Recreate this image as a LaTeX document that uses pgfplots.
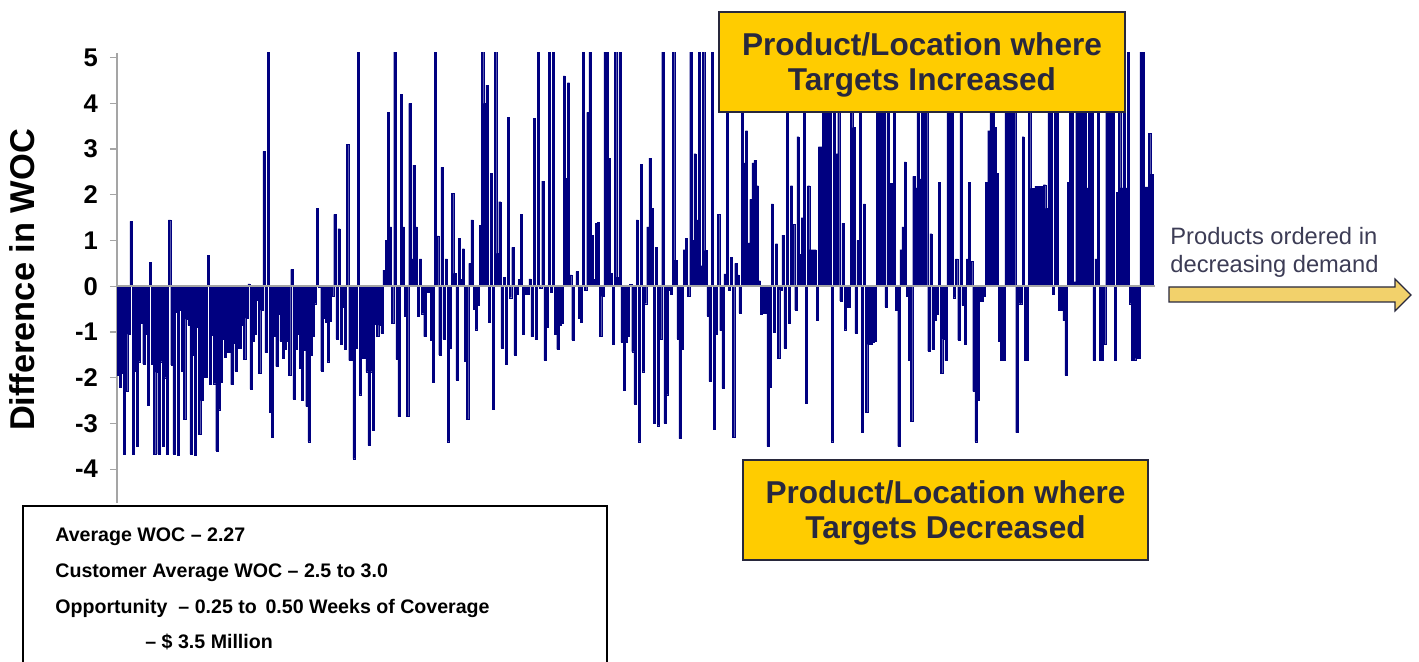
\documentclass[border=0pt]{standalone}
\usepackage{pgfplots}
\pgfplotsset{compat=1.18}
\usepackage{pgfplotstable}
\usepackage{fontspec}
\setmainfont{Liberation Sans}
\definecolor{navybar}{RGB}{0,0,128}
\definecolor{gold}{RGB}{255,204,0}
\definecolor{boxborder}{RGB}{40,40,60}
\definecolor{boxtext}{RGB}{40,40,62}
\definecolor{arrowfill}{RGB}{242,209,107}
\definecolor{arrowtext}{RGB}{60,60,85}
\definecolor{axgray}{RGB}{165,165,165}

\pgfplotstableread[row sep=\\]{v\\
-1.95\\ -2.2\\ -1.9\\ -3.67\\ -2.3\\ -1.05\\ 1.42\\ -3.67\\ -1.85\\ -3.5\\
-1.65\\ -0.8\\ -1.7\\ -1.05\\ -2.6\\ 0.52\\ -1.7\\ -3.67\\ -1.88\\ -3.67\\
-1.65\\ -3.5\\ -2.0\\ -3.67\\ 1.45\\ -1.72\\ -3.67\\ -0.57\\ -3.7\\ -0.52\\
-1.85\\ -2.9\\ -0.72\\ -0.85\\ -3.67\\ -1.5\\ -3.7\\ -0.9\\ -3.24\\ -2.5\\
-1.98\\ -1.98\\ 0.68\\ -2.15\\ -1.07\\ -2.13\\ -3.6\\ -2.7\\ -2.1\\ -1.15\\
-1.55\\ -1.45\\ -1.45\\ -2.15\\ -1.25\\ -1.85\\ -1.35\\ -1.35\\ -0.85\\ -1.6\\
-0.7\\ 0.05\\ -2.25\\ -1.2\\ -1.05\\ -0.3\\ -1.9\\ -0.52\\ 2.95\\
-1.45\\ 5.5\\ -2.75\\ -3.3\\ -1.1\\ -1.75\\ -0.62\\ -1.2\\ -1.58\\ -1.38\\
-1.2\\ -1.95\\ 0.37\\ -2.47\\ -1.38\\ -1.05\\ -1.8\\ -2.5\\ -1.4\\ -2.63\\
-3.4\\ -1.5\\ -1.1\\ -0.38\\ 1.7\\ -0.02\\ -1.85\\ -0.7\\ -0.78\\ -1.65\\
-0.77\\ -0.22\\ 1.57\\ -1.15\\ 1.26\\ -1.27\\ -0.45\\ -1.38\\ 3.1\\ -1.62\\
-1.62\\ -3.77\\ -1.35\\ 5.5\\ -2.37\\ -1.57\\ -1.57\\ -1.87\\ -3.48\\ -1.87\\
-3.15\\ -0.83\\ -1.1\\ -0.85\\ -1.03\\ 0.35\\ 1.0\\ 3.8\\ 1.3\\ -0.8\\
5.5\\ -1.6\\ -2.85\\ 4.2\\ 1.3\\ -0.65\\ -2.85\\ 4.0\\ 0.6\\
2.65\\ 1.3\\ -0.65\\ 0.6\\ -0.6\\ -1.1\\ -0.13\\ -0.13\\ -1.18\\ -2.1\\
5.5\\ 1.1\\ -1.5\\ 2.6\\ -1.15\\ 0.6\\ -3.4\\ -1.35\\ 2.03\\ 0.28\\
-2.05\\ 1.05\\ 0.15\\ 0.82\\ -1.63\\ -2.9\\ 0.5\\ 1.45\\ -0.5\\ -0.95\\
-0.42\\ 1.33\\ 5.5\\ 4.0\\ 4.4\\ -0.78\\ 2.47\\ -2.68\\ 5.5\\ 0.72\\
1.85\\ -1.35\\ 0.2\\ -1.7\\ 3.7\\ -0.25\\ 0.85\\ -1.5\\ -0.18\\ 0.15\\
1.57\\ -1.05\\ -0.18\\ -0.18\\ 0.16\\ -1.1\\ 3.67\\ -1.15\\ 5.5\\ -0.05\\
2.3\\ -1.62\\ -0.9\\ 5.5\\ -0.13\\ 5.5\\ -1.05\\ -1.38\\ -0.85\\ -0.8\\
4.6\\ 2.36\\ 4.45\\ 0.25\\ -1.18\\ 0.02\\ 0.32\\ -0.7\\ -0.78\\ 5.5\\
-0.08\\ 3.8\\ 5.5\\ 1.12\\ 0.15\\ 1.38\\ 1.4\\ -1.1\\ -0.22\\ 5.5\\
5.5\\ 2.8\\ 0.28\\ -1.27\\ 5.5\\ 0.2\\ 5.5\\ -1.22\\ -2.28\\ -1.22\\
-1.1\\ 0.04\\ -1.43\\ -2.57\\ 1.45\\ -3.4\\ 2.67\\ -1.87\\ -0.38\\ 1.3\\
2.8\\ 1.7\\ -3.0\\ 0.85\\ -3.05\\ -1.15\\ 5.5\\ -3.0\\ -2.37\\ -0.08\\
-0.18\\ 5.5\\ 0.57\\ -1.15\\ -3.33\\ -1.38\\ 0.8\\ 1.05\\ -0.22\\ 5.5\\
1.0\\ 2.9\\ 1.45\\ 5.5\\ 0.45\\ 5.5\\ 0.78\\ -0.65\\ -2.08\\
5.5\\ -3.13\\ -1.05\\ 1.57\\ -0.97\\ -2.23\\ 0.27\\ 5.5\\ -0.08\\ 0.63\\
-3.3\\ 0.5\\ 0.25\\ -0.58\\ 5.5\\ 2.7\\ 3.4\\ 0.95\\ 1.9\\ 2.7\\
2.75\\ 2.2\\ 0.12\\ -0.62\\ -0.58\\ -0.58\\ -3.5\\ -2.2\\ 1.8\\ -1.0\\
0.93\\ -1.58\\ -0.08\\ 1.12\\ -1.35\\ 5.5\\ -0.8\\ 2.2\\ 1.35\\ -0.52\\
3.27\\ 0.7\\ 1.5\\ 5.5\\ -2.55\\ 2.2\\ 0.8\\ 0.8\\ 0.8\\ -0.75\\
3.05\\ 3.05\\ 5.5\\ 5.5\\ 5.5\\ 5.5\\ -3.4\\ 5.5\\ 2.9\\ 5.5\\
-0.32\\ 1.38\\ -0.95\\ -0.45\\ -0.45\\ 5.5\\ 3.47\\ -1.03\\
1.0\\ 5.5\\ -3.2\\ 1.8\\ -2.75\\ -1.27\\ -1.27\\ -1.23\\ -1.2\\ 5.5\\
5.5\\ 5.5\\ 5.5\\ -0.45\\ 5.5\\ 2.25\\ 2.25\\ 5.5\\ -0.52\\ -3.5\\
0.8\\ 1.3\\ 2.72\\ -0.22\\ -1.62\\ -2.95\\ 2.4\\ 2.15\\ 5.5\\ 2.35\\
5.5\\ 5.5\\ 5.5\\ -1.42\\ 1.15\\ -1.38\\ -0.75\\ -0.62\\ 2.27\\ -1.9\\
-1.15\\ -1.62\\ 5.5\\ 5.5\\ 5.5\\ -0.25\\ 0.6\\ -1.18\\ 5.5\\ -0.42\\
-1.27\\ 0.6\\ 2.27\\ 0.55\\ -2.3\\ -3.4\\ -2.5\\ -0.32\\ -0.32\\ -0.22\\
2.27\\ 3.4\\ 3.85\\ 3.85\\ 3.47\\ 2.47\\ -1.2\\ -1.62\\ -1.62\\ 5.5\\
5.5\\ 5.5\\ 5.5\\ 5.5\\ -3.2\\ -0.38\\ -0.38\\ 3.27\\ -1.62\\ -1.62\\
5.5\\ 2.14\\ 2.14\\ 2.19\\ 2.19\\ 2.19\\ 2.19\\ 2.22\\ 1.7\\ 5.5\\
5.5\\ -0.18\\ 5.5\\ 5.5\\ -0.52\\ -0.52\\ -0.75\\ -1.95\\ 2.27\\ 5.5\\
5.5\\ 0.1\\ 5.5\\ 5.5\\ 5.5\\ 5.5\\ 5.5\\ 2.15\\ 5.5\\ 5.5\\
-1.62\\ 0.6\\ 5.5\\ -1.62\\ -1.62\\ -1.27\\ 5.5\\ 5.5\\ 5.5\\ 5.5\\
-1.62\\ 2.06\\ 5.5\\ 2.15\\ 5.5\\ 2.15\\ 5.5\\ -0.38\\ -1.62\\ -1.62\\
-1.57\\ -1.57\\ 5.5\\ 5.5\\ 2.17\\ 2.17\\ 3.35\\ 2.45\\
}\woc

\begin{document}
\begin{tikzpicture}
\useasboundingbox (0,0) rectangle (709.5pt,331pt);
\begin{axis}[
  at={(58.5pt,79.5pt)}, anchor=south west, scale only axis,
  width=519pt, height=225pt,
  xmin=0.5, xmax=484.5, ymin=-4.74, ymax=5.1,
  axis x line=none, axis y line=left,
  axis line style={draw=axgray, line width=0.8pt, -},
  xtick=\empty,
  ytick={-4,-3,-2,-1,0,1,2,3,4,5},
  yticklabels={-4,-3,-2,-1,0,1,2,3,4,5},
  yticklabel style={font=\bfseries\fontsize{12.8}{14}\selectfont, text=black, xshift=-2.5pt},
  tick align=outside, major tick length=3.5pt,
  tick style={draw=axgray, line width=0.6pt},
  clip=true,
]
\addplot[ybar, bar width=1, fill=navybar, draw=navybar, line width=0.1pt]
  table[x expr=\coordindex+1, y=v]{\woc};
\draw[axgray, line width=0.8pt] (axis cs:0.5,0) -- (axis cs:484.5,0);
\end{axis}

% y label
\node[rotate=90, font=\bfseries\fontsize{17.2}{20}\selectfont] at (11pt,191pt) {Difference in WOC};

% top box
\draw[fill=gold, draw=boxborder, line width=1.2pt] (359.5pt,325pt) rectangle (562.5pt,275pt);
\node[align=center, text=boxtext, font=\bfseries\fontsize{15.8}{17.8}\selectfont] at (461pt,298.5pt)
  {Product/Location where\\Targets Increased};

% bottom box
\draw[fill=gold, draw=boxborder, line width=1.2pt] (371.5pt,101pt) rectangle (574pt,51pt);
\node[align=center, text=boxtext, font=\bfseries\fontsize{15.8}{17.8}\selectfont] at (472.75pt,74.5pt)
  {Product/Location where\\Targets Decreased};

% info box
\draw[fill=white, draw=black, line width=1pt] (11.5pt,78pt) rectangle (303.5pt,-5pt);
\begin{scope}[every node/.style={anchor=base west, inner sep=0pt, font=\bfseries\fontsize{9.8}{12}\selectfont}]
\node at (27.5pt,60pt) {Average WOC – 2.27};
\node at (27.5pt,42pt) {Customer Average WOC – 2.5 to 3.0};
\node at (27.5pt,24pt) {Opportunity \ – 0.25 to \,0.50 Weeks of Coverage};
\node at (72.5pt,6.5pt) {– \$ 3.5 Million};
\end{scope}

% arrow text
\begin{scope}[every node/.style={anchor=base west, inner sep=0pt, text=arrowtext, font=\fontsize{11.85}{14}\selectfont}]
\node at (585pt,208.75pt) {Products ordered in};
\node at (585pt,194.75pt) {decreasing demand};
\end{scope}

% arrow
\draw[fill=arrowfill, draw=boxborder, line width=0.6pt]
  (584.5pt,187.5pt) -- (697.5pt,187.5pt) -- (697.5pt,191.5pt) -- (705.5pt,183.5pt)
  -- (697.5pt,175.5pt) -- (697.5pt,180pt) -- (584.5pt,180pt) -- cycle;
\end{tikzpicture}
\end{document}
